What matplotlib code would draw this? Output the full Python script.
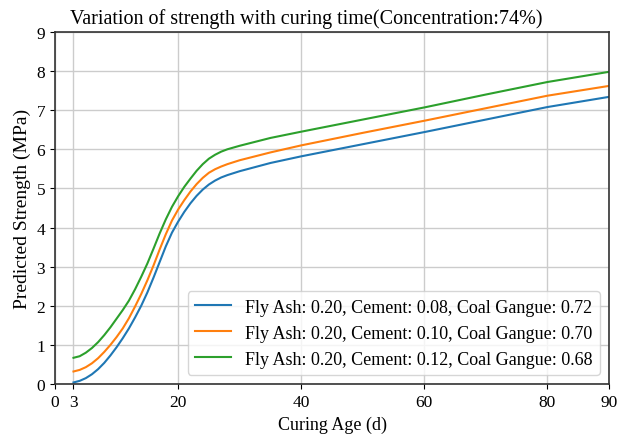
import matplotlib
matplotlib.use("Agg")
import matplotlib.pyplot as plt

plt.rcParams['font.family'] = ['Liberation Serif', 'DejaVu Serif']

x_days = [3, 4, 5, 6, 7, 8, 9, 10, 11, 12, 13, 14, 15, 16, 17, 18, 19, 20, 21, 22,
          23, 24, 25, 26, 27, 28, 30, 35, 40, 50, 60, 70, 80, 90]

blue_vals = [0.04, 0.08, 0.15, 0.25, 0.38, 0.54, 0.73, 0.94, 1.17, 1.42, 1.70, 2.00,
             2.34, 2.72, 3.12, 3.52, 3.87, 4.15, 4.40, 4.62, 4.81, 4.97, 5.10, 5.20,
             5.28, 5.34, 5.44, 5.65, 5.82, 6.13, 6.44, 6.76, 7.08, 7.34]
orange_vals = [0.32, 0.36, 0.43, 0.53, 0.66, 0.82, 1.00, 1.20, 1.42, 1.68, 1.98, 2.30,
               2.65, 3.03, 3.44, 3.83, 4.18, 4.46, 4.70, 4.92, 5.11, 5.27, 5.40, 5.49,
               5.56, 5.62, 5.72, 5.92, 6.10, 6.42, 6.73, 7.05, 7.37, 7.62]
green_vals = [0.67, 0.71, 0.80, 0.92, 1.07, 1.25, 1.45, 1.67, 1.89, 2.13, 2.42, 2.74,
              3.08, 3.46, 3.85, 4.21, 4.53, 4.80, 5.04, 5.25, 5.45, 5.62, 5.76, 5.86,
              5.94, 6.00, 6.09, 6.29, 6.45, 6.76, 7.07, 7.40, 7.72, 7.98]

labels = ["Fly Ash: 0.20, Cement: 0.08, Coal Gangue: 0.72",
          "Fly Ash: 0.20, Cement: 0.10, Coal Gangue: 0.70",
          "Fly Ash: 0.20, Cement: 0.12, Coal Gangue: 0.68"]
colors = ["#1f77b4", "#ff7f0e", "#2ca02c"]

x_ticks = [0, 3, 20, 40, 60, 80, 90]
y_ticks = list(range(0, 10))

fig = plt.figure(figsize=(6.19, 4.39), dpi=100)
ax = fig.add_axes([0.0889, 0.123, 0.895, 0.802])

for vals, lab, c in zip([blue_vals, orange_vals, green_vals], labels, colors):
    ax.plot(x_days, vals, color=c, linewidth=1.5, label=lab)

ax.set_xlim(0, 90)
ax.set_ylim(0, 9)
ax.set_xticks(x_ticks)
ax.set_yticks(y_ticks)
ax.tick_params(labelsize=12.5)
ax.grid(True, color="#cccccc", linewidth=1.0)
ax.set_axisbelow(True)
for s in ax.spines.values():
    s.set_color("#333333")
    s.set_linewidth(1.2)
ax.set_xlabel("Curing Age (d)", fontsize=13)
ax.set_ylabel("Predicted Strength (MPa)", fontsize=14)
fig.text(0.495, 0.945, "Variation of strength with curing time(Concentration:74%)",
         fontsize=14.5, ha="center", va="baseline")
ax.legend(loc="lower right", fontsize=13, handlelength=2.0)

fig.savefig("out.png", dpi=100)
